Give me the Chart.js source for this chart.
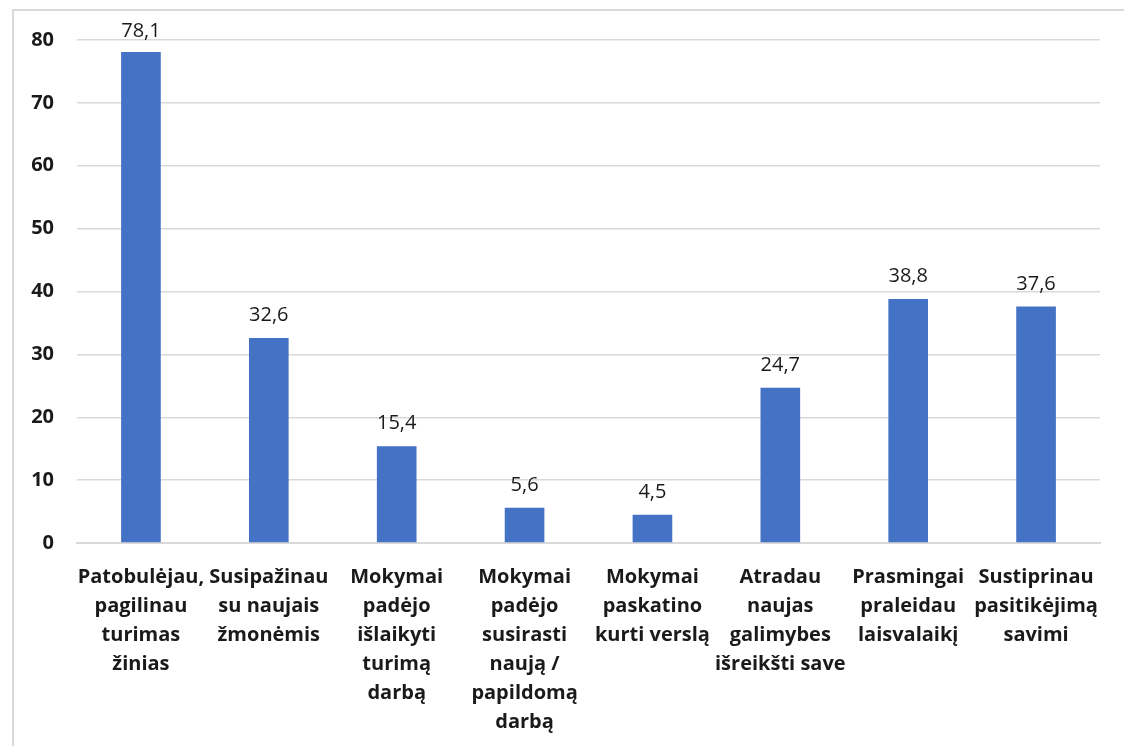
<!DOCTYPE html>
<html><head><meta charset="utf-8">
<script src="https://cdn.jsdelivr.net/npm/chart.js@4"></script>
<style>
html,body{margin:0;padding:0;background:#fff;}
#wrap{position:relative;width:1124px;height:746px;overflow:hidden;}
#frame{position:absolute;left:12px;top:9px;width:1130px;height:760px;border-top:2px solid #d9d9d9;border-left:2px solid #d9d9d9;box-sizing:border-box;}
canvas{position:absolute;left:0;top:0;}
</style></head>
<body><div id="wrap"><div id="frame"></div><canvas id="c" width="1124" height="746"></canvas></div>
<script>
const categories = [
  ["Patobulėjau,","pagilinau","turimas","žinias"],
  ["Susipažinau","su naujais","žmonėmis"],
  ["Mokymai","padėjo","išlaikyti","turimą","darbą"],
  ["Mokymai","padėjo","susirasti","naują /","papildomą","darbą"],
  ["Mokymai","paskatino","kurti verslą"],
  ["Atradau","naujas","galimybes","išreikšti save"],
  ["Prasmingai","praleidau","laisvalaikį"],
  ["Sustiprinau","pasitikėjimą","savimi"]
];
const values = [78.1, 32.6, 15.4, 5.6, 4.5, 24.7, 38.8, 37.6];
const valueLabels = ["78,1","32,6","15,4","5,6","4,5","24,7","38,8","37,6"];
const yTicks = [0,10,20,30,40,50,60,70,80];

const FONT = "'Open Sans', sans-serif";
const dataLabels = {
  id:'dataLabels',
  afterDatasetsDraw(chart){
    const ctx = chart.ctx;
    const meta = chart.getDatasetMeta(0);
    ctx.save();
    ctx.font = "20px " + FONT;
    ctx.fillStyle = "#1a1a1a";
    ctx.textAlign = "center";
    ctx.textBaseline = "alphabetic";
    meta.data.forEach((bar,i)=>{
      ctx.fillText(valueLabels[i], bar.x, Math.max(bar.y - 17, 37));
    });
    ctx.restore();
  }
};

new Chart(document.getElementById('c'), {
  type:'bar',
  data:{labels:categories, datasets:[{data:values, backgroundColor:'#4472C4', barPercentage:0.31, categoryPercentage:1}]},
  options:{
    responsive:false, animation:false,
    layout:{padding:{top:40,left:14,right:24,bottom:0}},
    plugins:{legend:{display:false}, tooltip:{enabled:false}},
    scales:{
      y:{min:0,max:80,
        afterBuildTicks(s){ s.ticks = yTicks.map(v=>({value:v})); },
        afterFit(s){ s.width = 63; },
        ticks:{font:{family:FONT,size:20,weight:'bold'},color:'#1a1a1a',padding:23},
        grid:{color:'#d9d9d9',lineWidth:1.5,drawTicks:false},
        border:{display:false}
      },
      x:{
        afterFit(s){ s.height = 203; },
        ticks:{font:{family:FONT,size:20,weight:'bold',lineHeight:1.45},color:'#1a1a1a',padding:12,maxRotation:0,autoSkip:false},
        grid:{display:false},
        border:{display:true,color:'#d9d9d9',width:2}
      }
    }
  },
  plugins:[dataLabels]
});
</script></body></html>
